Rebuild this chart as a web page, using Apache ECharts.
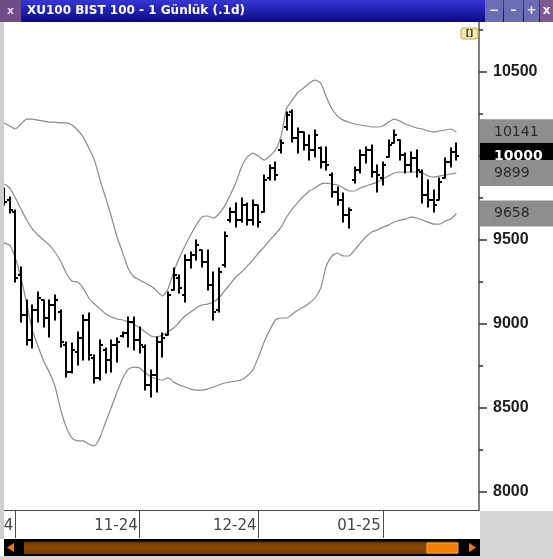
<!DOCTYPE html>
<html>
<head>
<meta charset="utf-8">
<title>XU100 BIST 100 - 1 Günlük</title>
<script src="https://cdn.jsdelivr.net/npm/echarts@6/dist/echarts.min.js"></script>
<style>
  html, body { margin: 0; padding: 0; background: #d6d6d6; }
  #chart { width: 553px; height: 559px; }
</style>
</head>
<body>
<div id="chart"></div>
<script>
// işlem günleri (son 4 gün boş, sağdaki boşluk için)
var dates = [
  '2024-09-27', '2024-09-30',
  '2024-10-01', '2024-10-02', '2024-10-03', '2024-10-04', '2024-10-07', '2024-10-08', '2024-10-09', '2024-10-10',
  '2024-10-11', '2024-10-14', '2024-10-15', '2024-10-16', '2024-10-17', '2024-10-18', '2024-10-21', '2024-10-22',
  '2024-10-23', '2024-10-24', '2024-10-25', '2024-10-28', '2024-10-30', '2024-10-31',
  '2024-11-01', '2024-11-04', '2024-11-05', '2024-11-06', '2024-11-07', '2024-11-08', '2024-11-11', '2024-11-12',
  '2024-11-13', '2024-11-14', '2024-11-15', '2024-11-18', '2024-11-19', '2024-11-20', '2024-11-21', '2024-11-22',
  '2024-11-25', '2024-11-26', '2024-11-27', '2024-11-28', '2024-11-29',
  '2024-12-02', '2024-12-03', '2024-12-04', '2024-12-05', '2024-12-06', '2024-12-09', '2024-12-10', '2024-12-11',
  '2024-12-12', '2024-12-13', '2024-12-16', '2024-12-17', '2024-12-18', '2024-12-19', '2024-12-20', '2024-12-23',
  '2024-12-24', '2024-12-25', '2024-12-26', '2024-12-27', '2024-12-30', '2024-12-31',
  '2025-01-02', '2025-01-03', '2025-01-06', '2025-01-07', '2025-01-08', '2025-01-09', '2025-01-10', '2025-01-13',
  '2025-01-14', '2025-01-15', '2025-01-16', '2025-01-17', '2025-01-20', '2025-01-21',
  '2025-01-22', '2025-01-23', '2025-01-24', '2025-01-27'
];

var opens = [
  9798, 9738, 9667, 9292, 9054, 8905, 9084, 9143, 9036, 9113,
  9072, 8875, 8714, 8834, 8917, 9024, 8798, 8679, 8845, 8786,
  8875, 8929, 8947, 9012, 8905, 8863, 8637, 8696, 8893, 8935,
  9203, 9274, 9173, 9381, 9411, 9441, 9369, 9232, 9084, 9351,
  9619, 9667, 9619, 9708, 9619, 9708, 9667, 9869, 9929, 10036,
  10173, 10262, 10107, 10143, 10066, 10036, 10048, 9964, 9887, 9786,
  9738, 9649, 9857, 9917, 10006, 10036, 9905, 9869, 9994, 10077,
  10095, 10006, 9947, 9988, 9905, 9768, 9738, 9738, 9869, 9964,
  10024
];
var highs = [
  9810, 9756, 9679, 9339, 9143, 9113, 9191, 9143, 9143, 9173,
  9084, 8893, 8887, 8953, 9054, 9066, 8816, 8905, 8857, 8905,
  8917, 8953, 9042, 9042, 8982, 8875, 8726, 8923, 8947, 9191,
  9333, 9292, 9411, 9429, 9500, 9441, 9441, 9310, 9333, 9548,
  9691, 9720, 9750, 9720, 9738, 9708, 9887, 9947, 9964, 10095,
  10262, 10274, 10167, 10143, 10125, 10155, 10054, 10054, 9899, 9816,
  9780, 9691, 9935, 10036, 10054, 10066, 9947, 9964, 10095, 10155,
  10095, 10018, 10024, 10036, 9917, 9857, 9798, 9869, 9988, 10048,
  10077
];
var lows = [
  9708, 9661, 9250, 9012, 8875, 8857, 9012, 8982, 8923, 9024,
  8863, 8685, 8708, 8756, 8786, 8786, 8649, 8667, 8708, 8714,
  8774, 8923, 8863, 8845, 8828, 8607, 8566, 8595, 8804, 8935,
  9203, 9185, 9131, 9333, 9381, 9339, 9203, 9024, 9072, 9339,
  9607, 9577, 9607, 9589, 9589, 9577, 9667, 9857, 9857, 10018,
  10155, 10083, 10018, 10036, 9976, 9994, 9929, 9917, 9756, 9708,
  9607, 9571, 9839, 9899, 9958, 9875, 9786, 9828, 9994, 10077,
  9976, 9899, 9905, 9875, 9720, 9697, 9667, 9738, 9869, 9935,
  9976
];
var closes = [
  9726, 9679, 9274, 9054, 8905, 9084, 9155, 9036, 9113, 9143,
  8893, 8714, 8845, 8917, 9024, 8816, 8679, 8875, 8786, 8875,
  8893, 8947, 9012, 8905, 8875, 8637, 8696, 8893, 8917, 9173,
  9292, 9214, 9381, 9411, 9470, 9369, 9232, 9072, 9310, 9524,
  9667, 9619, 9708, 9619, 9708, 9607, 9857, 9929, 9887, 10077,
  10244, 10107, 10143, 10066, 10036, 10125, 9964, 9947, 9786, 9738,
  9649, 9679, 9917, 10006, 10036, 9905, 9887, 9947, 10066, 10125,
  10006, 9947, 9988, 9917, 9768, 9738, 9708, 9845, 9964, 10024,
  10000
];

// Bollinger bantları
var bbUpper = [
  10197, 10179, 10161, 10191, 10220, 10220, 10214, 10208, 10202, 10202,
  10197, 10197, 10185, 10155, 10113, 10048, 9976, 9857, 9750, 9637,
  9518, 9423, 9328, 9280, 9262, 9244, 9226, 9197, 9167, 9209,
  9310, 9393, 9464, 9530, 9589, 9637, 9643, 9631, 9655, 9702,
  9768, 9839, 9935, 9994, 10018, 10000, 9976, 10000, 10036, 10119,
  10286, 10333, 10381, 10405, 10435, 10452, 10435, 10351, 10280, 10238,
  10214, 10202, 10191, 10185, 10179, 10173, 10173, 10179, 10202, 10220,
  10208, 10191, 10179, 10167, 10161, 10149, 10143, 10149, 10155, 10161,
  10141
];
var bbMiddle = [
  9833, 9810, 9750, 9685, 9619, 9566, 9530, 9500, 9470, 9429,
  9375, 9304, 9256, 9250, 9214, 9155, 9119, 9090, 9060, 9042,
  9030, 9024, 9012, 9000, 8976, 8953, 8929, 8923, 8935, 8953,
  8976, 9012, 9048, 9072, 9096, 9113, 9119, 9131, 9155, 9197,
  9238, 9280, 9310, 9345, 9381, 9423, 9458, 9500, 9536, 9577,
  9637, 9685, 9726, 9762, 9792, 9810, 9833, 9839, 9833, 9828,
  9810, 9792, 9792, 9810, 9822, 9833, 9845, 9863, 9881, 9899,
  9905, 9905, 9905, 9905, 9899, 9881, 9875, 9881, 9887, 9893,
  9899
];
var bbLower = [
  9482, 9470, 9393, 9274, 9125, 8965, 8869, 8780, 8714, 8631,
  8494, 8387, 8322, 8304, 8304, 8286, 8274, 8328, 8417, 8506,
  8595, 8679, 8732, 8744, 8738, 8708, 8685, 8673, 8667, 8679,
  8655, 8637, 8625, 8613, 8607, 8607, 8613, 8625, 8637, 8649,
  8655, 8661, 8667, 8691, 8726, 8804, 8893, 8965, 9024, 9036,
  9036, 9060, 9084, 9101, 9125, 9155, 9214, 9345, 9405, 9423,
  9405, 9405, 9441, 9482, 9518, 9548, 9559, 9577, 9589, 9607,
  9619, 9625, 9637, 9631, 9619, 9607, 9595, 9595, 9613, 9625,
  9658
];

var majorTicks = [8000, 8500, 9000, 9500, 10000, 10500];
var minorTicks = [8250, 8750, 9250, 9750, 10250, 10750];
var yMin = 7893;
var yMax = 10798;

var chart = echarts.init(document.getElementById('chart'));

// ay başları: ayraç çizgisi + etiket
var monthStart = dates.map(function (d, i) {
  return i > 0 && d.slice(5, 7) !== dates[i - 1].slice(5, 7);
});

var ohlc = closes.map(function (c, i) {
  return [i, opens[i], c, lows[i], highs[i]];
});

// OHLC çubuğu: dikey çizgi, solda açılış, sağda kapanış
function renderBar(params, api) {
  var i = api.value(0);
  var x = Math.round(api.coord([i, 0])[0]);
  var yO = Math.round(api.coord([i, api.value(1)])[1]);
  var yC = Math.round(api.coord([i, api.value(2)])[1]);
  var yL = api.coord([i, api.value(3)])[1];
  var yH = api.coord([i, api.value(4)])[1];
  var st = { stroke: '#000', lineWidth: 2 };
  return {
    type: 'group',
    children: [
      { type: 'line', shape: { x1: x, y1: yH - 0.5, x2: x, y2: yL + 0.5 }, style: st },
      { type: 'line', shape: { x1: x - 3, y1: yO, x2: x, y2: yO }, style: st },
      { type: 'line', shape: { x1: x, y1: yC, x2: x + 3, y2: yC }, style: st }
    ]
  };
}

var bandStyle = { color: '#8a8a8a', width: 1.2 };

chart.setOption({
  animation: false,
  backgroundColor: '#ffffff',
  grid: { left: 4, right: 74, top: 22, bottom: 49, containLabel: false, outerBoundsMode: 'none' },
  xAxis: {
    type: 'category',
    data: dates,
    boundaryGap: false,
    axisLine: { lineStyle: { color: '#4a4a4a', width: 1 } },
    axisTick: {
      interval: function (i) { return monthStart[i]; },
      length: 28,
      lineStyle: { color: '#4a4a4a', width: 1 }
    },
    axisLabel: {
      interval: function (i) { return monthStart[i]; },
      formatter: function (v) { return v.slice(5, 7) + '-' + v.slice(2, 4); },
      align: 'right',
      padding: [0, 2, 0, 0],
      margin: 9,
      color: '#444',
      fontFamily: 'DejaVu Sans',
      fontSize: 15,
      hideOverlap: false
    },
    splitLine: { show: false }
  },
  yAxis: [
    {
      type: 'value',
      position: 'right',
      min: yMin,
      max: yMax,
      axisLine: { show: true, lineStyle: { color: '#555', width: 1.5 } },
      axisTick: { show: true, customValues: majorTicks, length: 8, lineStyle: { color: '#333', width: 1.5 } },
      axisLabel: {
        customValues: majorTicks,
        formatter: function (v) { return String(v); },
        margin: 14,
        color: '#1e1e1e',
        fontFamily: 'Liberation Sans',
        fontWeight: 'bold',
        fontSize: 16
      },
      splitLine: { show: false }
    },
    {
      type: 'value',
      position: 'right',
      offset: 0,
      min: yMin,
      max: yMax,
      axisLine: { show: false },
      axisTick: { show: true, customValues: minorTicks, length: 4, lineStyle: { color: '#333', width: 1.5 } },
      axisLabel: { show: false },
      splitLine: { show: false }
    }
  ],
  series: [
    { name: 'BB Üst', type: 'line', data: bbUpper, symbol: 'none', smooth: 0.2, lineStyle: bandStyle, silent: true, z: 1 },
    { name: 'BB Orta', type: 'line', data: bbMiddle, symbol: 'none', smooth: 0.2, lineStyle: bandStyle, silent: true, z: 1 },
    { name: 'BB Alt', type: 'line', data: bbLower, symbol: 'none', smooth: 0.2, lineStyle: bandStyle, silent: true, z: 1 },
    {
      name: 'XU100',
      type: 'custom',
      data: ohlc,
      encode: { x: 0, y: [1, 2, 3, 4] },
      renderItem: renderBar,
      z: 3
    }
  ]
});

// pencere süsleri ve sağdaki değer kutuları
function yPix(v) {
  return chart.convertToPixel({ yAxisIndex: 0 }, v);
}

var g = [];
var z2 = 0;
function add(el) {
  el.z = 100;
  el.z2 = z2++;
  g.push(el);
}

// gri çerçeve
add({ type: 'rect', shape: { x: 0, y: 22, width: 4, height: 517 }, style: { fill: '#cfcfcf' } });
add({ type: 'rect', shape: { x: 480, y: 511, width: 73, height: 48 }, style: { fill: '#d6d6d6' } });
add({ type: 'rect', shape: { x: 0, y: 556, width: 553, height: 3 }, style: { fill: '#d6d6d6' } });

// başlık çubuğu
add({
  type: 'rect', shape: { x: 0, y: 0, width: 553, height: 22 },
  style: { fill: new echarts.graphic.LinearGradient(0, 0, 0, 1, [
    { offset: 0, color: '#3636d6' }, { offset: 1, color: '#0a0a84' }
  ]) }
});
add({ type: 'rect', shape: { x: 0, y: 0, width: 21, height: 22 }, style: { fill: '#6e4c86' } });
add({ type: 'text', x: 10.5, y: 11, style: { text: 'x', fill: '#e0d4ea', font: 'bold 11px DejaVu Sans', align: 'center', verticalAlign: 'middle' } });
add({ type: 'text', x: 27, y: 11, style: { text: 'XU100 BIST 100 - 1 Günlük (.1d)', fill: '#ffffff', font: 'bold 12px DejaVu Sans', verticalAlign: 'middle' } });

var buttons = [
  { x: 485, w: 18, t: '\u2212', c: '#6c6cb4' },
  { x: 504, w: 19, t: '\u2013', c: '#6c6cb4' },
  { x: 524, w: 15, t: '+', c: '#6c6cb4' },
  { x: 540, w: 13, t: 'x', c: '#7e5a92' }
];
buttons.forEach(function (b) {
  add({ type: 'rect', shape: { x: b.x, y: 0, width: b.w, height: 22 }, style: { fill: b.c } });
  add({ type: 'text', x: b.x + b.w / 2, y: 11, style: { text: b.t, fill: '#f0f0ff', font: 'bold 12px DejaVu Sans', align: 'center', verticalAlign: 'middle' } });
});

// lejant düğmesi
add({ type: 'rect', shape: { x: 461, y: 28, width: 17, height: 11, r: 2 }, style: { fill: '#f3e6a6', stroke: '#c4aa5c', lineWidth: 1 } });
add({ type: 'text', x: 469.5, y: 33.5, style: { text: '[]', fill: '#333', font: 'bold 8px DejaVu Sans', align: 'center', verticalAlign: 'middle' } });

// kaydırma çubuğu
add({ type: 'rect', shape: { x: 4, y: 539, width: 476, height: 17 }, style: { fill: '#000' } });
add({
  type: 'rect', shape: { x: 24, y: 541.5, width: 434, height: 12.5 },
  style: { fill: new echarts.graphic.LinearGradient(0, 0, 0, 1, [
    { offset: 0, color: '#5a2c00' }, { offset: 0.3, color: '#8c4800' }, { offset: 1, color: '#7a3e00' }
  ]) }
});
add({ type: 'rect', shape: { x: 427, y: 543, width: 31, height: 10 }, style: { fill: '#f47f00', stroke: '#ffa640', lineWidth: 1 } });
add({ type: 'polygon', shape: { points: [[7, 547.5], [14, 543], [14, 552]] }, style: { fill: '#f07c00' } });
add({ type: 'polygon', shape: { points: [[476, 547.5], [469, 543], [469, 552]] }, style: { fill: '#f07c00' } });

// son değer kutuları
var last = closes.length - 1;
var boxes = [
  { v: bbUpper[last], bg: '#8e8e8e', fg: '#2b2b2b', bold: false },
  { v: closes[last], bg: '#000000', fg: '#ffffff', bold: true },
  { v: bbMiddle[last], bg: '#8e8e8e', fg: '#2b2b2b', bold: false },
  { v: bbLower[last], bg: '#8e8e8e', fg: '#2b2b2b', bold: false }
];
boxes.forEach(function (b) {
  var y = yPix(b.v);
  add({ type: 'rect', shape: { x: 480, y: y - 13, width: 73, height: 26 }, style: { fill: b.bg } });
  add({
    type: 'text', x: 494, y: y,
    style: { text: String(b.v), fill: b.fg, font: (b.bold ? 'bold ' : '') + '14px DejaVu Sans', verticalAlign: 'middle' }
  });
});

chart.setOption({ graphic: g });
</script>
</body>
</html>
